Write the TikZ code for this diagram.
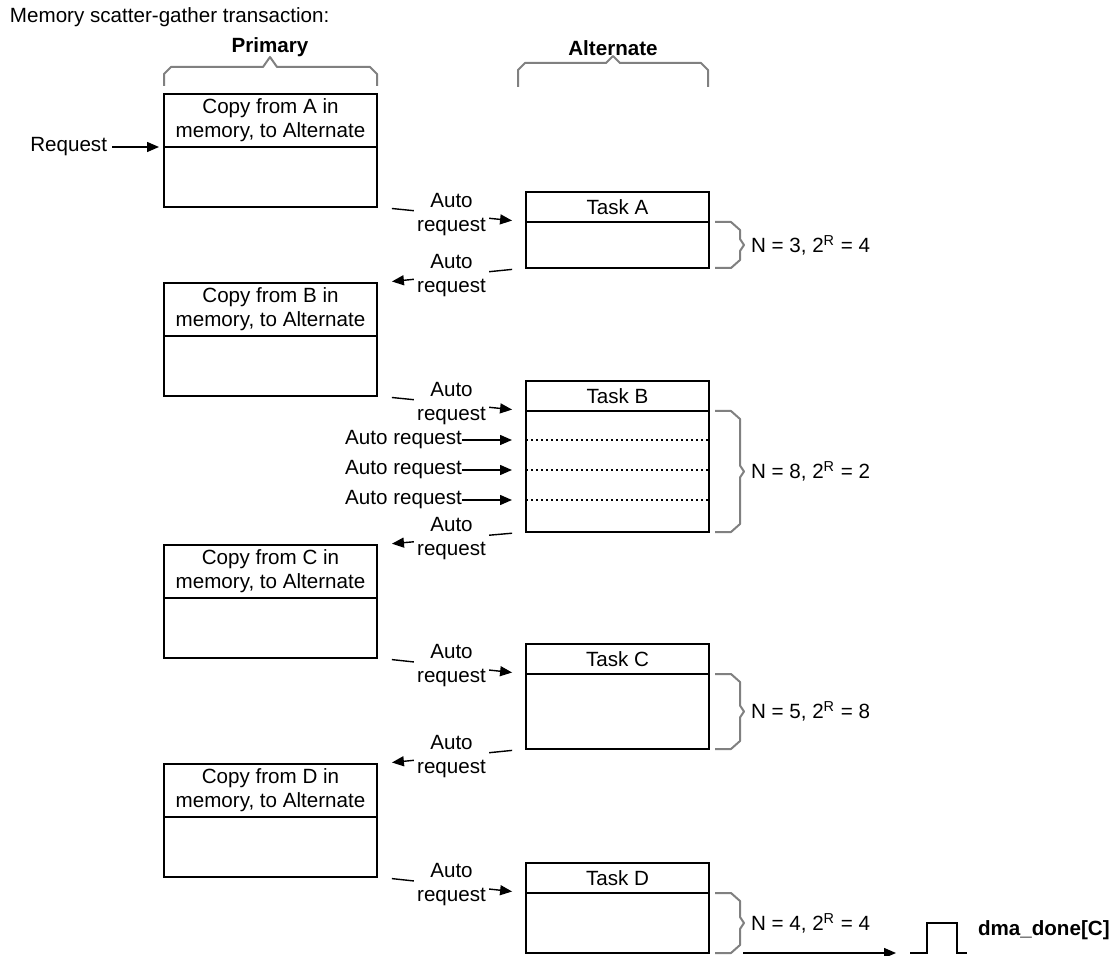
\documentclass[tikz,border=0pt]{standalone}
\usepackage{fontspec}
\setmainfont{Liberation Sans}
\usepackage{tikz}
\usetikzlibrary{positioning,arrows.meta}

\begin{document}
\begin{tikzpicture}[x=0.5pt, y=-0.5pt,
  every node/.style={font=\fontsize{10.3}{12}\selectfont, inner sep=0pt, outer sep=0pt},
  phead/.style={draw, line width=0.9pt, minimum width=106.5pt, minimum height=26.5pt, align=center},
  pbody/.style={draw, line width=0.9pt, minimum width=106.5pt, minimum height=30pt},
  thead/.style={draw, line width=0.9pt, minimum width=91.5pt, minimum height=15pt},
  tbody/.style={draw, line width=0.9pt, minimum width=91.5pt},
  arr/.style={-{Triangle[length=6pt,width=5pt]}, line width=0.7pt},
  lab/.style={fill=white, align=center, inner xsep=1.5pt},
  brk/.style={draw=black!50, line width=1pt, line join=round},
  dots/.style={line width=0.7pt, dash pattern=on 1pt off 1.5pt}]
  \useasboundingbox (0,0) rectangle (1118,956);

  \node[anchor=west] (title) at (10,17) {Memory scatter-gather transaction:};

  % column brackets
  \draw[brk] (164,86) -- (164,74) -- (171,67) -- (263,67) -- (270,57) -- (277,67) -- (370,67) -- (377,74) -- (377,86);
  \node[anchor=south] (prim) at (270,57) {\bfseries Primary};
  \draw[brk] (518,87) -- (518,70) -- (525,63) -- (606,63) -- (613,56) -- (620,63) -- (701,63) -- (708,70) -- (708,87);
  \node[anchor=south] (alt) at (613,56) {\bfseries Alternate};

  % primary boxes
  \foreach \n/\y in {A/94,B/283,C/545,D/764}{
    \node[phead, anchor=north west] (p\n h) at (164,\y) {Copy from \n{} in\\memory, to Alternate};
    \node[pbody, below=0pt of p\n h] (p\n b) {};
  }

  % alternate tasks
  \foreach \n/\y/\h in {A/192/23pt,B/381/60.5pt,C/644/37.5pt,D/863/30pt}{
    \node[thead, anchor=north west] (t\n h) at (526,\y) {Task \n};
    \node[tbody, minimum height=\h, below=0pt of t\n h] (t\n b) {};
  }

  \node[anchor=east] (req) at (107,147) {Request};
  \draw[arr, shorten <=2.5pt, shorten >=2.5pt] (req.east) -- (req.east -| pAh.west);

  \foreach \n in {A,B,C,D}
    \draw[arr, shorten <=7.5pt, shorten >=7pt] (p\n b.south east) -- node[lab] {Auto\\request} (t\n b.north west);
  \foreach \n/\m in {A/B,B/C,C/D}
    \draw[arr, shorten <=7pt, shorten >=7.5pt] (t\n b.south west) -- node[lab] {Auto\\request} (p\m h.north east);

  % extra requests inside task B
  \foreach \y [count=\i] in {440,470,500}{
    \node[anchor=east] (ar\i) at (462,\y) {Auto request};
    \draw[arr, shorten >=7pt] (ar\i.east) -- (ar\i.east -| tBb.west);
    \draw[dots] (ar\i.east -| tBb.west) -- (ar\i.east -| tBb.east);
  }

  % side brackets
  \foreach \n/\t in {A/{N = 3, 2\textsuperscript{R} = 4},B/{N = 8, 2\textsuperscript{R} = 2},C/{N = 5, 2\textsuperscript{R} = 8},D/{N = 4, 2\textsuperscript{R} = 4}}
    \draw[brk] ([xshift=3pt]t\n b.north east) -- ++(16,0) -- ++(9,8) -- ([xshift=15.5pt,yshift=3pt]t\n b.east)
      -- ++(4,6) node[anchor=west, xshift=3.5pt, text=black] (n\n) {\t}
      -- ++(-4,6) -- ([xshift=15.5pt,yshift=4pt]t\n b.south east) -- ++(-9,8) -- ++(-16,0);

  % done output
  \coordinate (dmain) at (743,953);
  \coordinate (dmaout) at (896,953);
  \draw[arr] (dmain) -- (dmaout);
  \draw[line width=0.8pt] (910,953) -- (927,953) -- (927,923) -- (957,923) -- (957,953) -- (967,953);
  \node[anchor=west] (done) at (978,930) {\bfseries dma\_done[C]};
\end{tikzpicture}
\end{document}
